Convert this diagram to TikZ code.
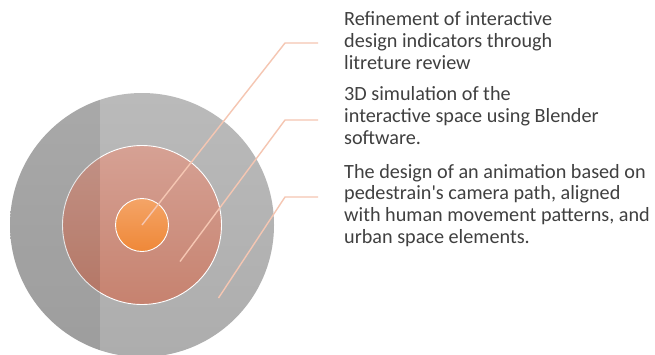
\documentclass[tikz,border=0pt]{standalone}
\usepackage{fontspec}
\setmainfont{Carlito}
\definecolor{txt}{HTML}{404040}
\definecolor{leadc}{HTML}{F5C6B2}
\definecolor{greyT}{HTML}{BABABA}
\definecolor{greyB}{HTML}{ADADAD}
\definecolor{redT}{HTML}{D6A194}
\definecolor{redB}{HTML}{C6826F}
\definecolor{orT}{HTML}{F4A467}
\definecolor{orB}{HTML}{EF8838}
\begin{document}
\begin{tikzpicture}[x=1pt,y=-1pt,
  ring/.style={circle,inner sep=0pt},
  lead/.style={draw=leadc,line width=1.4pt},
  label/.style={anchor=base west,inner sep=0pt,align=left,text=txt,
     font=\fontsize{20.2}{21.8}\selectfont}]
\useasboundingbox (0,0) rectangle (655,354);
\fill[white] (0,0) rectangle (655,354);
% circles
\node[ring,minimum size=264pt,top color=greyT,bottom color=greyB] (big) at (142,225) {};
\node[ring,minimum size=159pt,top color=redT,bottom color=redB,draw=white,line width=0.9pt] (mid) at (142,225) {};
\node[ring,minimum size=53pt,top color=orT,bottom color=orB,draw=white,line width=0.9pt] (small) at (142,225) {};
% darker band at the left
\begin{scope}
  \clip (142,225) circle (132pt);
  \fill[black,opacity=0.09] (0,80) rectangle (100,360);
\end{scope}
% connectors
\coordinate (s2) at (180,261.5);
\coordinate (s3) at (218.5,298);
\coordinate (b1) at (285,43);
\coordinate (b2) at (285,120);
\coordinate (b3) at (285,197);
\coordinate (e1) at (318,43);
\coordinate (e2) at (318,120);
\coordinate (e3) at (318,197);
\draw[lead] (small.center) -- (b1) -- (e1);
\draw[lead] (s2) -- (b2) -- (e2);
\draw[lead] (s3) -- (b3) -- (e3);
% texts (anchored at the baseline of the last line)
\node[label] (t1) at (344,69) {Refinement of interactive\\design indicators through\\litreture review};
\node[label] (t2) at (344,144.5) {3D simulation of the\\interactive space using Blender\\software.};
\node[label] (t3) at (344,243.5) {The design of an animation based on\\pedestrain\textquotesingle s camera path, aligned\\with human movement patterns, and\\urban space elements.};
\end{tikzpicture}
\end{document}
